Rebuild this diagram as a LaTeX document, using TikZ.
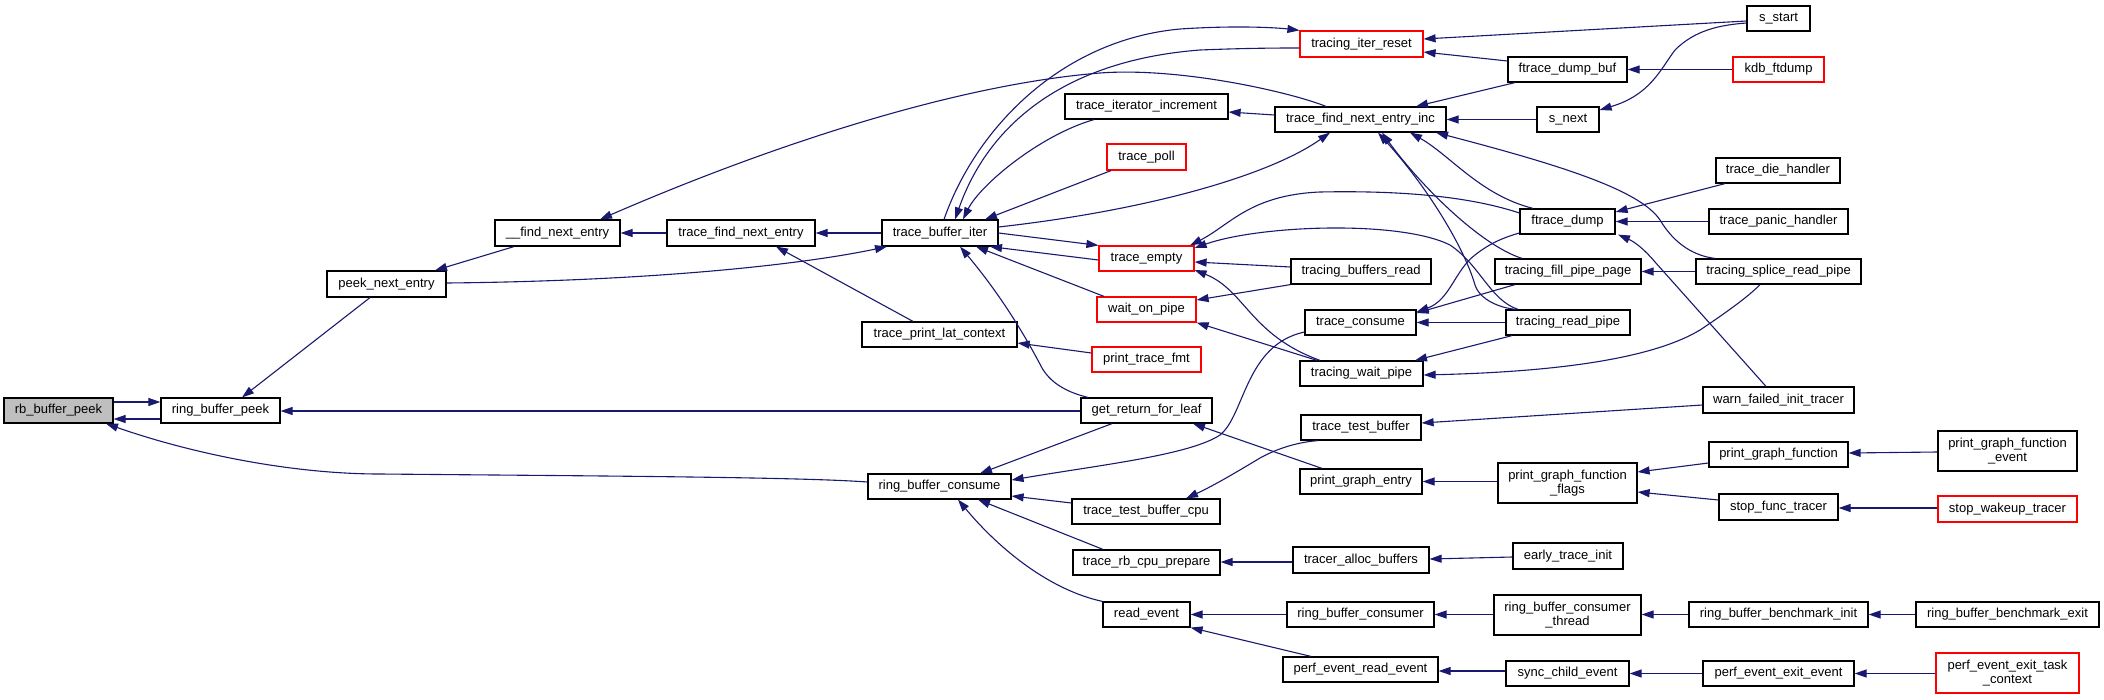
\documentclass[tikz,border=0pt]{standalone}
\usepackage{fontspec}
\setmainfont{Liberation Sans}
\usetikzlibrary{arrows.meta}
\definecolor{dxedge}{HTML}{191970}
\definecolor{dxred}{HTML}{FF0000}
\definecolor{dxgray}{HTML}{BFBFBF}
\begin{document}
\begin{tikzpicture}[x=1pt,y=-1pt,
  fn/.style={draw=black, line width=1.2pt, fill=white, inner sep=0pt, align=center,
    font=\fontsize{13}{14.5}\selectfont, minimum height=25pt},
  fnred/.style={fn, draw=dxred},
  fnroot/.style={fn, fill=dxgray},
  conn/.style={draw=dxedge, line width=1.1pt, >={Triangle[length=12pt,width=8pt]}, <-}]
\fill[white] (0,0) rectangle (2104,699);
\useasboundingbox (0,0) rectangle (2104,699);

% nodes
\node[fnroot, minimum width=109pt] (rb) at (58.5,410.5) {rb\_buffer\_peek};
\node[fn, minimum width=119pt] (rbp) at (220.5,410.5) {ring\_buffer\_peek};
\node[fn, minimum width=119pt, minimum height=26pt] (pne) at (386.5,284) {peek\_next\_entry};
\node[fn, minimum width=125pt, minimum height=26pt] (fne) at (557.5,233) {\_\_find\_next\_entry};
\node[fn, minimum width=148pt, minimum height=26pt] (tfne) at (741,233) {trace\_find\_next\_entry};
\node[fn, minimum width=116pt, minimum height=26pt] (tbi) at (940,233) {trace\_buffer\_iter};
\node[fnred, minimum width=123pt, minimum height=26pt] (tir) at (1361.5,44) {tracing\_iter\_reset};
\node[fn, minimum width=119pt] (fdb) at (1567.5,69.5) {ftrace\_dump\_buf};
\node[fn, minimum width=163pt] (tii) at (1146.5,106.5) {trace\_iterator\_increment};
\node[fn, minimum width=171pt] (tfnei) at (1360.5,119.5) {trace\_find\_next\_entry\_inc};
\node[fn, minimum width=62pt] (snext) at (1568,119.5) {s\_next};
\node[fn, minimum width=63pt] (sstart) at (1778.5,18.5) {s\_start};
\node[fnred, minimum width=91pt] (kdb) at (1778.5,69.5) {kdb\_ftdump};
\node[fnred, minimum width=79pt, minimum height=26pt] (tpoll) at (1146.5,157) {trace\_poll};
\node[fn, minimum width=95pt] (fd) at (1567.5,221.5) {ftrace\_dump};
\node[fn, minimum width=124pt] (tdh) at (1778,170.5) {trace\_die\_handler};
\node[fn, minimum width=139pt] (tph) at (1778.5,221.5) {trace\_panic\_handler};
\node[fnred, minimum width=95pt] (te) at (1146.5,258.5) {trace\_empty};
\node[fn, minimum width=140pt] (tbr) at (1361,271.5) {tracing\_buffers\_read};
\node[fn, minimum width=146pt] (tfpp) at (1568,271.5) {tracing\_fill\_pipe\_page};
\node[fn, minimum width=165pt] (tsrp) at (1778.5,271.5) {tracing\_splice\_read\_pipe};
\node[fnred, minimum width=99pt] (wop) at (1146.5,309.5) {wait\_on\_pipe};
\node[fn, minimum width=155pt] (tplc) at (939.5,334.5) {trace\_print\_lat\_context};
\node[fn, minimum width=111pt] (tc) at (1360.5,322.5) {trace\_consume};
\node[fn, minimum width=124pt] (trp) at (1568,322.5) {tracing\_read\_pipe};
\node[fnred, minimum width=109pt] (ptf) at (1146.5,359.5) {print\_trace\_fmt};
\node[fn, minimum width=123pt] (twp) at (1361.5,373.5) {tracing\_wait\_pipe};
\node[fn, minimum width=151pt, minimum height=26pt] (wfit) at (1778.5,400) {warn\_failed\_init\_tracer};
\node[fn, minimum width=131pt] (grfl) at (1146.5,410.5) {get\_return\_for\_leaf};
\node[fn, minimum width=120pt] (ttb) at (1361,427.5) {trace\_test\_buffer};
\node[fn, minimum width=139pt] (pgf) at (1778.5,454.5) {print\_graph\_function};
\node[fn, minimum width=139pt, minimum height=40pt] (pgfe) at (2007.5,451) {print\_graph\_function\\\_event};
\node[fn, minimum width=122pt] (pge) at (1361,481.5) {print\_graph\_entry};
\node[fn, minimum width=139pt, minimum height=40pt] (pgff) at (1567.5,483) {print\_graph\_function\\\_flags};
\node[fn, minimum width=143pt] (rbc) at (939.5,486.5) {ring\_buffer\_consume};
\node[fn, minimum width=119pt, minimum height=26pt] (sft) at (1778.5,507) {stop\_func\_tracer};
\node[fnred, minimum width=139pt, minimum height=26pt] (swt) at (2007.5,509) {stop\_wakeup\_tracer};
\node[fn, minimum width=148pt] (ttbc) at (1146,511.5) {trace\_test\_buffer\_cpu};
\node[fn, minimum width=147pt] (trcp) at (1146.5,562.5) {trace\_rb\_cpu\_prepare};
\node[fn, minimum width=136pt, minimum height=26pt] (tab) at (1361,560) {tracer\_alloc\_buffers};
\node[fn, minimum width=110pt, minimum height=26pt] (eti) at (1568,556) {early\_trace\_init};
\node[fn, minimum width=87pt] (re) at (1146.5,614.5) {read\_event};
\node[fn, minimum width=147pt] (rbcr) at (1360.5,614.5) {ring\_buffer\_consumer};
\node[fn, minimum width=147pt, minimum height=40pt] (rbct) at (1567.5,615) {ring\_buffer\_consumer\\\_thread};
\node[fn, minimum width=179pt] (rbbi) at (1778.5,614.5) {ring\_buffer\_benchmark\_init};
\node[fn, minimum width=183pt] (rbbe) at (2007.5,614.5) {ring\_buffer\_benchmark\_exit};
\node[fn, minimum width=155pt] (pere) at (1360.5,669.5) {perf\_event\_read\_event};
\node[fn, minimum width=123pt] (sce) at (1567.5,673.5) {sync\_child\_event};
\node[fn, minimum width=151pt] (peee) at (1778.5,673.5) {perf\_event\_exit\_event};
\node[fnred, minimum width=143pt, minimum height=40pt] (peetc) at (2007.5,673) {perf\_event\_exit\_task\\\_context};

% connectors (arrow at the callee)
\draw[conn] (rbp.west |- 0,402) -- (rb.east |- 0,402);
\draw[conn] (rb.east |- 0,419) -- (rbp.west |- 0,419);
\draw[conn] (rbp.north -| 242,0) -- (pne.south -| 370,0);
\draw[conn] (rbp.east |- 0,411) -- (grfl.west |- 0,411);
\draw[conn] (rb.south -| 106,0) .. controls (190,453) and (290,474) .. (380,474) .. controls (600,476) and (800,477) .. (rbc.west |- 0,482);
\draw[conn] (pne.north -| 435,0) -- (fne.south -| 514,0);
\draw[conn] (tbi.south -| 887,0) .. controls (800,265) and (650,281) .. (pne.east |- 0,283);
\draw[conn] (fne.east) -- (tfne.west);
\draw[conn] (fne.north -| 600,0) .. controls (760,150) and (950,85) .. (1100,73) .. controls (1180,67) and (1290,92) .. (tfnei.north -| 1326,0);
\draw[conn] (tfne.east) -- (tbi.west);
\draw[conn] (tfne.south -| 776,0) -- (tplc.north -| 913,0);
\draw[conn] (tir.north west) .. controls (1280,28) and (1240,25) .. (1180,29) .. controls (1060,40) and (975,130) .. (tbi.north -| 944,0);
\draw[conn] (tbi.north -| 955,0) .. controls (990,120) and (1070,60) .. (1200,50) .. controls (1250,48) and (1280,48) .. (tir.west |- 0,48);
\draw[conn] (tbi.north -| 963,0) .. controls (980,185) and (1040,135) .. (tii.south -| 1094,0);
\draw[conn] (tbi.north -| 985,0) -- (tpoll.south -| 1111,0);
\draw[conn] (tfnei.south -| 1330,0) .. controls (1270,175) and (1150,210) .. (tbi.east |- 0,227);
\draw[conn] (te.north west) -- (tbi.east |- 0,233);
\draw[conn] (tbi.south -| 990,0) -- (te.west |- 0,260);
\draw[conn] (tbi.south -| 976,0) -- (wop.north -| 1104,0);
\draw[conn] (tbi.south -| 960,0) .. controls (1005,300) and (1030,345) .. (1042,368) .. controls (1052,385) and (1070,393) .. (grfl.north -| 1088,0);
\draw[conn] (tir.east |- 0,39) -- (sstart.west |- 0,21);
\draw[conn] (tir.east |- 0,52) -- (fdb.west |- 0,61);
\draw[conn] (fdb.east) -- (kdb.west);
\draw[conn] (tfnei.north -| 1416,0) -- (fdb.south -| 1515,0);
\draw[conn] (tfnei.east) -- (snext.west);
\draw[conn] (snext.east |- 0,110) .. controls (1650,95) and (1660,70) .. (1675,50) .. controls (1695,30) and (1720,25) .. (sstart.west |- 0,23);
\draw[conn] (tii.east |- 0,112) -- (tfnei.west |- 0,115);
\draw[conn] (tfnei.south -| 1410,0) .. controls (1450,155) and (1480,195) .. (fd.north -| 1533,0);
\draw[conn] (tfnei.south -| 1382,0) .. controls (1420,185) and (1480,245) .. (tfpp.north -| 1522,0);
\draw[conn] (tfnei.south -| 1378,0) .. controls (1430,190) and (1465,250) .. (1475,285) .. controls (1480,300) and (1500,308) .. (trp.north -| 1516,0);
\draw[conn] (tfnei.south -| 1436,0) .. controls (1560,165) and (1640,190) .. (1660,220) .. controls (1675,245) and (1695,256) .. (tsrp.north -| 1715,0);
\draw[conn] (fd.east |- 0,212) -- (tdh.south -| 1725,0);
\draw[conn] (fd.east) -- (tph.west);
\draw[conn] (fd.south -| 1618,0) .. controls (1635,242) and (1645,250) .. (1655,262) -- (wfit.north -| 1766,0);
\draw[conn] (te.north -| 1190,0) .. controls (1230,225) and (1250,195) .. (1320,192) .. controls (1420,190) and (1480,200) .. (fd.west |- 0,213);
\draw[conn] (te.east |- 0,248) .. controls (1260,225) and (1400,220) .. (1450,245) .. controls (1480,265) and (1490,300) .. (trp.north -| 1518,0);
\draw[conn] (te.east |- 0,262) -- (tbr.west |- 0,267);
\draw[conn] (te.east |- 0,270) .. controls (1245,290) and (1250,335) .. (twp.north -| 1320,0);
\draw[conn] (wop.east |- 0,300) -- (tbr.south west);
\draw[conn] (wop.south east) -- (twp.north -| 1317,0);
\draw[conn] (tc.east |- 0,312) .. controls (1450,300) and (1455,270) .. (1475,255) .. controls (1490,243) and (1505,237) .. (fd.west |- 0,233);
\draw[conn] (tc.east |- 0,313) -- (tfpp.south -| 1515,0);
\draw[conn] (tc.east) -- (trp.west);
\draw[conn] (twp.north -| 1415,0) -- (trp.south -| 1512,0);
\draw[conn] (twp.east |- 0,375) .. controls (1550,372) and (1650,360) .. (1700,330) .. controls (1730,310) and (1750,295) .. (tsrp.south -| 1760,0);
\draw[conn] (tfpp.east) -- (tsrp.west);
\draw[conn] (rbc.east |- 0,480) .. controls (1100,465) and (1190,455) .. (1220,435) .. controls (1245,415) and (1245,345) .. (tc.west |- 0,332);
\draw[conn] (rbc.north -| 980,0) -- (grfl.south -| 1112,0);
\draw[conn] (rbc.east |- 0,496) -- (ttbc.west |- 0,503);
\draw[conn] (rbc.south -| 978,0) -- (trcp.north -| 1103,0);
\draw[conn] (rbc.south -| 958,0) .. controls (1000,550) and (1050,590) .. (re.north west);
\draw[conn] (grfl.south -| 1193,0) -- (pge.north -| 1322,0);
\draw[conn] (ttbc.north -| 1186,0) .. controls (1215,485) and (1240,470) .. (1260,458) .. controls (1280,447) and (1300,442) .. (ttb.south -| 1318,0);
\draw[conn] (ttb.east |- 0,423) -- (wfit.west |- 0,405);
\draw[conn] (pge.east) -- (pgff.west |- 0,481.5);
\draw[conn] (pgff.east |- 0,472) -- (pgf.west |- 0,463);
\draw[conn] (pgff.east |- 0,492) -- (sft.west |- 0,500);
\draw[conn] (pgf.east |- 0,453) -- (pgfe.west |- 0,452);
\draw[conn] (sft.east |- 0,508) -- (swt.west |- 0,508);
\draw[conn] (trcp.east |- 0,562) -- (tab.west |- 0,562);
\draw[conn] (tab.east |- 0,559) -- (eti.west |- 0,557);
\draw[conn] (re.east) -- (rbcr.west);
\draw[conn] (re.south east) -- (pere.north -| 1311,0);
\draw[conn] (rbcr.east) -- (rbct.west |- 0,614.5);
\draw[conn] (rbct.east |- 0,614.5) -- (rbbi.west);
\draw[conn] (rbbi.east) -- (rbbe.west);
\draw[conn] (pere.east |- 0,671) -- (sce.west |- 0,671);
\draw[conn] (sce.east |- 0,673.5) -- (peee.west |- 0,673.5);
\draw[conn] (peee.east |- 0,673.5) -- (peetc.west |- 0,673.5);
\draw[conn] (tplc.east |- 0,343) -- (ptf.west |- 0,353);
\end{tikzpicture}
\end{document}
